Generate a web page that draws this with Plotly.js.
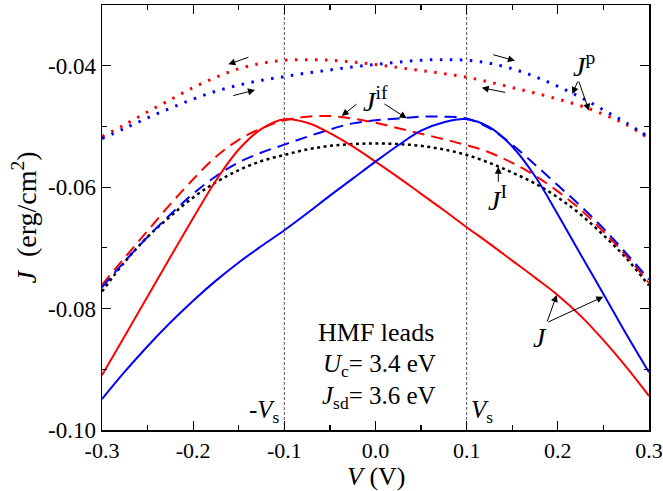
<!DOCTYPE html>
<html>
<head>
<meta charset="utf-8">
<script src="https://cdn.plot.ly/plotly-3.0.1.min.js"></script>
<style>html,body{margin:0;padding:0;background:#fff;}#chart{width:663px;height:491px;}</style>
</head>
<body>
<div id="chart"></div>
<script>
// Bias voltage grid (V)
const V = [-0.3,-0.275,-0.25,-0.225,-0.2,-0.175,-0.15,-0.125,-0.1,-0.075,-0.05,-0.025,0,0.025,0.05,0.075,0.1,0.125,0.15,0.175,0.2,0.225,0.25,0.275,0.3];

// J total (solid)
const J_red  = [-0.0910,-0.0845,-0.0780,-0.0715,-0.0651,-0.0589,-0.0538,-0.0504,-0.0488,-0.0494,-0.0511,-0.0533,-0.0558,-0.0584,-0.0611,-0.0638,-0.0666,-0.0693,-0.0721,-0.0749,-0.0778,-0.0812,-0.0852,-0.0896,-0.0944];
const J_blue = [-0.0949,-0.0904,-0.0862,-0.0823,-0.0787,-0.0754,-0.0724,-0.0697,-0.0671,-0.0643,-0.0614,-0.0586,-0.0558,-0.0531,-0.0507,-0.0493,-0.0488,-0.0501,-0.0533,-0.0582,-0.0645,-0.0711,-0.0776,-0.0842,-0.0905];

// J^if (dashed)
const Jif_red  = [-0.0761,-0.0716,-0.0672,-0.0628,-0.0587,-0.0550,-0.0522,-0.0503,-0.0490,-0.0484,-0.0483,-0.0487,-0.0494,-0.0503,-0.0512,-0.0521,-0.0531,-0.0543,-0.0560,-0.0581,-0.0607,-0.0637,-0.0673,-0.0713,-0.0758];
const Jif_blue = [-0.0765,-0.0722,-0.0682,-0.0645,-0.0611,-0.0582,-0.0559,-0.0543,-0.0530,-0.0517,-0.0505,-0.0495,-0.0490,-0.0487,-0.0484,-0.0484,-0.0487,-0.0503,-0.0530,-0.0563,-0.0597,-0.0631,-0.0668,-0.0709,-0.0752];

// J^I (black dotted)
const JI = [-0.0772,-0.0723,-0.0682,-0.0648,-0.0617,-0.0592,-0.0572,-0.0557,-0.0547,-0.0538,-0.0532,-0.0529,-0.0528,-0.0529,-0.0532,-0.0538,-0.0547,-0.0560,-0.0576,-0.0594,-0.0617,-0.0645,-0.0679,-0.0717,-0.0762];

// J^p (dotted)
const Jp_red  = [-0.0517,-0.0497,-0.0476,-0.0456,-0.0436,-0.0419,-0.0405,-0.0396,-0.0391,-0.0390,-0.0391,-0.0394,-0.0398,-0.0403,-0.0408,-0.0413,-0.0419,-0.0427,-0.0436,-0.0445,-0.0455,-0.0466,-0.0480,-0.0497,-0.0520];
const Jp_blue = [-0.0520,-0.0503,-0.0486,-0.0470,-0.0455,-0.0442,-0.0432,-0.0424,-0.0418,-0.0412,-0.0407,-0.0402,-0.0398,-0.0394,-0.0391,-0.0390,-0.0391,-0.0396,-0.0405,-0.0418,-0.0434,-0.0452,-0.0473,-0.0494,-0.0518];

// Ticks
const xTickVals = [-0.3,-0.2,-0.1,0,0.1,0.2,0.3];
const xTickText = ["-0.3","-0.2","-0.1","0.0","0.1","0.2","0.3"];
const yTickVals = [-0.10,-0.08,-0.06,-0.04];
const yTickText = ["-0.10","-0.08","-0.06","-0.04"];

// Switching voltages (vertical guide lines)
const vsLines = [-0.1, 0.1];

const RED = '#ff0000', BLUE = '#0000ff';
const FONT = 'Liberation Serif, Times New Roman, serif';

function tr(y, color, width, dash) {
  return {x: V, y: y, type: 'scatter', mode: 'lines',
          line: {color: color, width: width, dash: dash, shape: 'spline', smoothing: 1},
          hoverinfo: 'skip'};
}

const data = [
  tr(Jp_red, RED, 3, '2.5px,7.5px'),
  tr(Jp_blue, BLUE, 3, '2.5px,7.5px'),
  tr(JI, '#000', 2.5, '3px,3.5px'),
  tr(Jif_red, RED, 2, '12px,7px'),
  tr(Jif_blue, BLUE, 2, '12px,7px'),
  tr(J_red, RED, 2, 'solid'),
  tr(J_blue, BLUE, 2, 'solid')
];

const shapes = vsLines.map(v => ({
  type: 'line', xref: 'x', yref: 'paper', x0: v, x1: v, y0: 0, y1: 1,
  line: {color: '#555', width: 1, dash: '3px,2px'}, layer: 'below'
}));

function arrow(tx, ty, hx, hy) {
  return {x: hx, y: hy, ax: tx, ay: ty, xref: 'x', yref: 'y', axref: 'x', ayref: 'y',
          text: '', showarrow: true, arrowhead: 2, arrowsize: 1.4, arrowwidth: 1,
          arrowcolor: '#000', standoff: 0, startstandoff: 0};
}
function label(x, y, text, size, xanchor, xshift) {
  return {x: x, y: y, xref: 'x', yref: 'y', text: text, showarrow: false,
          xanchor: xanchor || 'center', yanchor: 'middle', xshift: xshift || 0,
          font: {family: FONT, size: size, color: '#000'}};
}

const annotations = [
  // sweep direction arrows
  arrow(-0.1377, -0.03852, -0.1615, -0.03977),
  arrow(-0.1577, -0.04499, -0.1322, -0.04400),
  arrow(0.1275, -0.03812, 0.1530, -0.03918),
  arrow(0.1439, -0.04445, 0.1165, -0.04362),
  // J^if
  label(0.000, -0.0455, '<i>J</i><sup>if</sup>', 28),
  arrow(-0.0192, -0.04614, -0.0371, -0.04828),
  arrow(0.0082, -0.04614, 0.0342, -0.04866),
  // J^p
  label(0.2287, -0.0398, '<i>J</i><sup>p</sup>', 28),
  arrow(0.2225, -0.04236, 0.2159, -0.04466),
  arrow(0.2225, -0.04236, 0.2342, -0.04741),
  // J^I
  label(0.1333, -0.0618, '<i>J</i><sup>I</sup>', 28),
  arrow(0.1347, -0.05937, 0.1347, -0.05663),
  // J
  label(0.1804, -0.0847, '<i>J</i>', 28),
  arrow(0.1878, -0.08233, 0.1988, -0.07776),
  arrow(0.1878, -0.08233, 0.2499, -0.07804),
  // text block
  label(0.000, -0.0839, 'HMF leads', 26),
  label(0.004, -0.0893, '<i>U</i><sub>c</sub>= 3.4 eV', 25),
  label(0.004, -0.0946, '<i>J</i><sub>sd</sub>= 3.6 eV', 25),
  // Vs labels
  label(vsLines[0], -0.0969, '-<i>V</i><sub>s</sub>', 25, 'right', -2),
  label(vsLines[1], -0.0969, '<i>V</i><sub>s</sub>', 25, 'left', 2),
  // x-axis title
  {xref: 'paper', yref: 'paper', x: 0.5, y: 0, xanchor: 'center', yanchor: 'top', yshift: -30,
   text: '<i>V</i> (V)', showarrow: false, font: {family: FONT, size: 26, color: '#000'}}
];

const layout = {
  width: 663, height: 491,
  margin: {l: 102, r: 14, t: 5, b: 61, pad: 0},
  paper_bgcolor: '#fff', plot_bgcolor: '#fff',
  showlegend: false,
  font: {family: FONT, color: '#000', size: 22},
  xaxis: {
    range: [-0.3, 0.3], tickmode: 'array', tickvals: xTickVals, ticktext: xTickText,
    ticks: 'inside', ticklen: 9, tickwidth: 1.2, tickcolor: '#000',
    showline: true, linewidth: 1.5, linecolor: '#000', mirror: 'allticks',
    showgrid: false, zeroline: false, ticklabeloverflow: 'allow',
    minor: {tickmode: 'linear', tick0: 0, dtick: 0.05, ticks: 'inside', ticklen: 5, tickwidth: 1.2, tickcolor: '#000'},
    tickfont: {family: FONT, size: 22, color: '#000'},
    automargin: false
  },
  yaxis: {
    range: [-0.10, -0.03], tickmode: 'array', tickvals: yTickVals, ticktext: yTickText,
    ticks: 'inside', ticklen: 9, tickwidth: 1.2, tickcolor: '#000',
    showline: true, linewidth: 1.5, linecolor: '#000', mirror: 'allticks',
    showgrid: false, zeroline: false, ticklabeloverflow: 'allow',
    minor: {tickmode: 'linear', tick0: 0, dtick: 0.01, ticks: 'inside', ticklen: 5, tickwidth: 1.2, tickcolor: '#000'},
    tickfont: {family: FONT, size: 23, color: '#000'},
    title: {text: '<i>J</i>  (erg/cm<sup>2</sup>)', font: {family: FONT, size: 28, color: '#000'}, standoff: 3},
    automargin: false
  },
  shapes: shapes,
  annotations: annotations
};

Plotly.newPlot('chart', data, layout, {displayModeBar: false, staticPlot: true});
</script>
</body>
</html>
